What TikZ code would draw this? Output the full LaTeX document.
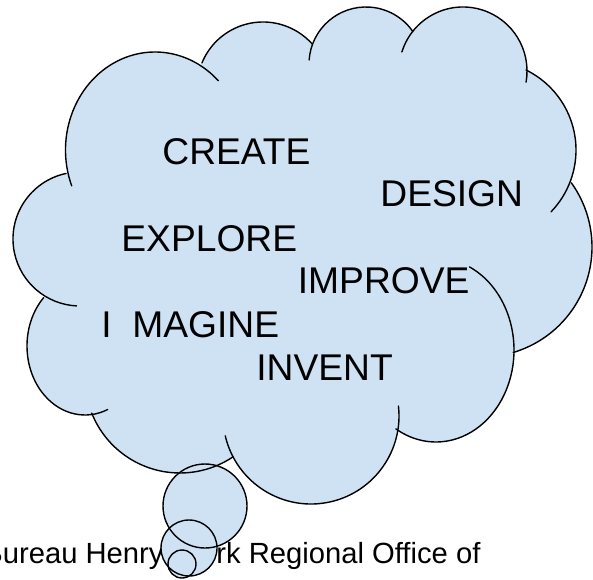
\documentclass[tikz,border=0pt]{standalone}
\usepackage{fontspec}
\setmainfont{Liberation Sans}
\usepackage{xcolor}
\definecolor{CloudBlue}{RGB}{207, 226, 243}
\tikzset{%
  cloud_fill/.style={%
    fill=CloudBlue,%
    draw=none%
  },
  cloud_line/.style={%
    draw=black,%
    line width=0.7pt,%
    line cap=round,%
  },
  word/.style={%
    anchor=base west,%
    inner sep=0pt,%
    font={\fontsize{18.6}{20}\selectfont},%
  },
  caption/.style={%
    anchor=base west,%
    inner sep=0pt,%
    font={\fontsize{14.6}{16}\selectfont},%
  },
}

\begin{document}
\begin{tikzpicture}[x=0.5pt, y=0.5pt]

    \useasboundingbox (0,0) rectangle (593,579);

    % text under the bubbles
    \node [caption] (caption_left) at (-17,16) {Bureau Henry};
    \node [caption] (caption_right) at (216,16) {rk Regional Office of};

    % cloud body
    \foreach \cx/\cy/\rx/\ry/\sa/\ea in {%
      155/429/89.5/98/201.5/45, 263/491/66/66/157.7/42,%
      366/515/57/57/176/34.6, 463/508/64/64/162.7/-10,%
      487/429/89/89/64/-44, 482/332/110/110/35.7/-73.5,%
      436/229/78/92/64.6/-121, 311/163/88/88/193/366.5,%
      180/201/95/95/201.7/303.9, 85/233/58/69/135.6/293,%
      80/340/67/67/102/267}
      \fill [cloud_fill] (\cx,\cy) ellipse [x radius=\rx, y radius=\ry];
    \fill [cloud_fill]
      (155,429) -- (263,491) -- (366,515) -- (463,508) -- (487,429)
      -- (482,332) -- (436,229) -- (311,163) -- (180,201) -- (85,233)
      -- (80,340) -- cycle;
    \foreach \bx/\by/\br in {205/73/42, 189/31/28, 182/15/14}
      \fill [cloud_fill] (\bx,\by) circle [radius=\br];

    % outline
    \foreach \cx/\cy/\rx/\ry/\sa/\ea in {%
      155/429/89.5/98/201.5/45, 263/491/66/66/157.7/42,%
      366/515/57/57/176/34.6, 463/508/64/64/162.7/-10,%
      487/429/89/89/64/-44, 482/332/110/110/35.7/-73.5,%
      436/229/78/92/64.6/-121, 311/163/88/88/193/366.5,%
      180/201/95/95/201.7/303.9, 85/233/58/69/135.6/293,%
      80/340/67/67/102/267}
      \draw [cloud_line]
        (\cx,\cy) ++({\rx*cos(\sa)},{\ry*sin(\sa)})
        arc [start angle=\sa, end angle=\ea, x radius=\rx, y radius=\ry];
    \foreach \bx/\by/\br in {205/73/42, 189/31/28, 182/15/14}
      \draw [cloud_line] (\bx,\by) circle [radius=\br];

    \node [word] (create) at (162,414) {CREATE};
    \node [word] (design) at (380,372) {DESIGN};
    \node [word] (explore) at (121,328) {EXPLORE};
    \node [word] (improve) at (297.5,286) {IMPROVE};
    \node [word] (imagine) at (101,242) {I\ \ MAGINE};
    \node [word] (invent) at (256,199) {INVENT};
  \end{tikzpicture}
\end{document}
